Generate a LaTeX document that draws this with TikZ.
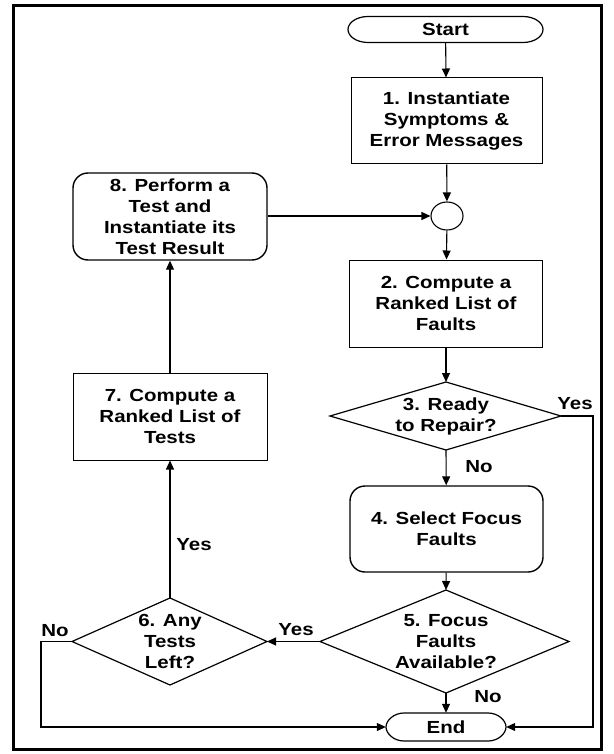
\documentclass[tikz,border=0pt]{standalone}
\usepackage{fontspec}
\setmainfont{Liberation Sans}[FakeStretch=1.17]
\usetikzlibrary{shapes.geometric,arrows.meta}
\begin{document}
\begin{tikzpicture}[x=1pt,y=-1pt,
  every node/.style={font=\fontsize{17.5}{21}\selectfont\bfseries, align=center, inner sep=0pt},
  proc/.style={draw, line width=1pt, minimum width=193pt, minimum height=87pt},
  rproc/.style={proc, rounded corners=15pt, line width=1.4pt},
  shapeline/.style={line width=1.2pt},
  junction/.style={draw, ellipse, line width=1.1pt, minimum width=32pt, minimum height=28pt},
  arr/.style={-{Triangle[length=9pt,width=8pt]}, line width=1.1pt}
]
\useasboundingbox (0,0) rectangle (613,754);
\draw[line width=3pt] (13,6) rectangle (601,749);

% terminals
\node[minimum width=195pt, minimum height=26pt] (start) at (445.5,29.5) {Start};
\draw[shapeline] (368,16.5) -- (523,16.5)
  .. controls (534,16.5) and (543,22.3) .. (543,29.5)
  .. controls (543,36.7) and (534,42.5) .. (523,42.5)
  -- (368,42.5)
  .. controls (357,42.5) and (348,36.7) .. (348,29.5)
  .. controls (348,22.3) and (357,16.5) .. cycle;

\node[minimum width=120pt, minimum height=28pt] (end) at (446,727) {End};
\draw[shapeline] (404,713) -- (488,713)
  .. controls (498,713) and (506,720.3) .. (506,727)
  .. controls (506,733.7) and (498,741) .. (488,741)
  -- (404,741)
  .. controls (394,741) and (386,733.7) .. (386,727)
  .. controls (386,720.3) and (394,713) .. cycle;

% processes
\node[proc, minimum width=191pt, minimum height=86pt] (s1) at (446.5,121) {1. Instantiate\\Symptoms \&\\Error Messages};
\node[junction] (jn) at (447,216) {};
\node[proc] (s2) at (446,303.5) {2. Compute a\\Ranked List of\\Faults};
\node[rproc, minimum height=86pt] (s4) at (446.5,529) {4. Select Focus\\Faults};
\node[rproc, minimum width=194pt] (s8) at (170,216.5) {8. Perform a\\Test and\\Instantiate its\\Test Result};
\node[proc, minimum width=194pt] (s7) at (170,416.5) {7. Compute a\\Ranked List of\\Tests};

% decisions
\node (d3) at (446,416) {3. Ready\\to Repair?};
\coordinate (d3n) at (446,382); \coordinate (d3e) at (561,416);
\coordinate (d3s) at (446,450); \coordinate (d3w) at (330,416);
\draw[shapeline] (d3n) -- (d3e) -- (d3s) -- (d3w) -- cycle;

\node (d5) at (446,641.5) {5. Focus\\Faults\\Available?};
\coordinate (d5n) at (446,590); \coordinate (d5e) at (569,641.5);
\coordinate (d5s) at (446,693); \coordinate (d5w) at (320,641.5);
\draw[shapeline] (d5n) -- (d5e) -- (d5s) -- (d5w) -- cycle;

\node (d6) at (170,641.5) {6. Any\\Tests\\Left?};
\coordinate (d6n) at (170,598); \coordinate (d6e) at (267,641.5);
\coordinate (d6s) at (170,685); \coordinate (d6w) at (72,641.5);
\draw[shapeline] (d6n) -- (d6e) -- (d6s) -- (d6w) -- cycle;

\coordinate (r3) at (593,416);
\coordinate (l6) at (41,641.5);

% connectors
\draw[arr] (start) -- (s1);
\draw[arr] (s1) -- (jn);
\draw[arr] (s8.east |- jn.west) -- (jn.west);
\draw[arr] (jn) -- (s2);
\draw[arr] (s2) -- (d3n);
\draw[arr] (d3s) -- (s4);
\draw[arr] (d3e) -- (r3) |- (end.east);
\draw[arr] (s4) -- (d5n);
\draw[arr] (d5s) -- (end);
\draw[arr] (d5w) -- (d6e);
\draw[arr] (d6n) -- (s7);
\draw[arr] (s7) -- (s8);
\draw[arr] (d6w) -- (l6) |- (end.west);

% labels
\node (lyes3) at (575,404) {Yes};
\node (lno3) at (479,467) {No};
\node (lyes5) at (296,630) {Yes};
\node (lno5) at (488,697) {No};
\node (lyes6) at (194,545) {Yes};
\node (lno6) at (55,631) {No};
\end{tikzpicture}
\end{document}
